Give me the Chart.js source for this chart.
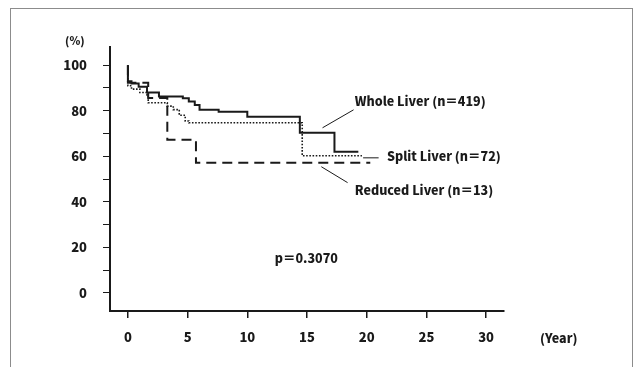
<!DOCTYPE html>
<html>
<head>
<meta charset="utf-8">
<script src="https://cdn.jsdelivr.net/npm/chart.js@4"></script>
<style>
  body { margin: 0; background: #fff; }
  #wrap { position: relative; width: 635px; height: 367px; overflow: hidden; }
  #frame { position: absolute; left: 10px; top: 8px; width: 621px; height: 400px;
           border: 1px solid #8c8c8c; border-bottom: none; }
  canvas { position: absolute; left: 0; top: 0; }
</style>
</head>
<body>
<div id="wrap">
  <div id="frame"></div>
  <canvas id="kmChart" width="635" height="367"></canvas>
</div>
<script>
// Kaplan-Meier curves (years, survival %)
const wholeYears = [0, 0, 0.3, 0.9, 1.6, 2.6, 4.6, 5.1, 5.6, 6.0, 7.6, 10.0, 14.4, 17.3, 19.3];
const wholeSurv  = [100, 93, 92, 90.5, 88, 86.3, 85.5, 84, 82.5, 80.4, 79.6, 77.4, 70.3, 62, 62];

const splitYears = [0, 0, 0.3, 1.0, 1.6, 1.7, 3.3, 3.8, 4.3, 4.8, 5.1, 14.6, 19.6];
const splitSurv  = [100, 91, 89.5, 88, 86.5, 83.5, 82, 80.5, 78, 75.5, 74.7, 60.2, 60.2];

const reducedYears = [0, 0, 1.7, 3.3, 5.7, 20.3];
const reducedSurv  = [100, 92.3, 85.6, 67.3, 57.1, 57.1];

const xTicks = [0, 5, 10, 15, 20, 25, 30];
const yTicks = [0, 10, 20, 30, 40, 50, 60, 70, 80, 90, 100];

// labels: text, anchor (years, %), leader line from/to (years, %)
const seriesLabels = ['Whole Liver (n＝419)', 'Split Liver (n＝72)', 'Reduced Liver (n＝13)'];
const labelAt  = [[19.0, 84.0], [21.7, 59.8], [19.0, 44.9]];
const leaderAt = [[16.3, 72.5, 18.9, 80.4], [19.7, 59.3, 21.0, 59.3], [16.2, 55.4, 18.4, 48.4]];
const pText = 'p＝0.3070';
const pAt = [12.3, 15.0];

function toPoints(xs, ys) {
  return xs.map((x, i) => ({ x: x, y: ys[i] }));
}

const ink = '#1a1a1a';
const family = "'Noto Sans CJK JP', 'Liberation Sans', sans-serif";
const font = "900 12.5px " + family;

const annotations = {
  id: 'annotations',
  afterDraw(chart) {
    const ctx = chart.ctx;
    const xs = chart.scales.x, ys = chart.scales.y;
    const area = chart.chartArea;
    ctx.save();
    ctx.fillStyle = ink;
    ctx.strokeStyle = ink;
    ctx.lineWidth = 1;
    ctx.font = font;
    ctx.textBaseline = 'middle';
    ctx.textAlign = 'left';
    seriesLabels.forEach((t, i) => {
      ctx.fillText(t, xs.getPixelForValue(labelAt[i][0]), ys.getPixelForValue(labelAt[i][1]));
      const l = leaderAt[i];
      ctx.beginPath();
      ctx.moveTo(xs.getPixelForValue(l[0]), ys.getPixelForValue(l[1]));
      ctx.lineTo(xs.getPixelForValue(l[2]), ys.getPixelForValue(l[3]));
      ctx.stroke();
    });
    ctx.fillText(pText, xs.getPixelForValue(pAt[0]), ys.getPixelForValue(pAt[1]));
    // axis titles
    ctx.font = "900 11px " + family;
    ctx.fillText('(%)', area.left - 45, area.top - 6);
    ctx.font = font;
    ctx.fillText('(Year)', area.right + 36, xs.bottom - 29);
    ctx.restore();
  }
};

const ctx = document.getElementById('kmChart').getContext('2d');
new Chart(ctx, {
  type: 'line',
  data: {
    datasets: [
      {
        label: 'Reduced Liver',
        data: toPoints(reducedYears, reducedSurv),
        borderColor: ink,
        borderWidth: 2,
        borderDash: [10, 6],
        stepped: true,
        pointRadius: 0,
        fill: false
      },
      {
        label: 'Split Liver',
        data: toPoints(splitYears, splitSurv),
        borderColor: ink,
        borderWidth: 1.6,
        borderDash: [1.6, 1.6],
        stepped: true,
        pointRadius: 0,
        fill: false
      },
      {
        label: 'Whole Liver',
        data: toPoints(wholeYears, wholeSurv),
        borderColor: ink,
        borderWidth: 2,
        stepped: true,
        pointRadius: 0,
        fill: false
      }
    ]
  },
  options: {
    responsive: false,
    animation: false,
    layout: { padding: { left: 0, top: 47, right: 131, bottom: 0 } },
    plugins: {
      legend: { display: false },
      tooltip: { enabled: false }
    },
    scales: {
      x: {
        type: 'linear',
        min: -1.5,
        max: 31.5,
        afterBuildTicks: (scale) => { scale.ticks = xTicks.map(v => ({ value: v })); },
        afterFit: (scale) => { scale.height = 56; },
        border: { display: true, color: ink, width: 2 },
        grid: { drawOnChartArea: false, drawTicks: true, tickLength: 7, color: ink, lineWidth: 1.5 },
        ticks: { color: ink, font: { family: family, size: 13, weight: 900 }, padding: 11, maxRotation: 0 }
      },
      y: {
        type: 'linear',
        min: -8,
        max: 108,
        afterBuildTicks: (scale) => { scale.ticks = yTicks.map(v => ({ value: v })); },
        afterFit: (scale) => { scale.width = 110; },
        border: { display: true, color: ink, width: 2 },
        grid: { drawOnChartArea: false, drawTicks: true, tickLength: 7, color: ink, lineWidth: 1 },
        ticks: {
          color: ink,
          font: { family: family, size: 13, weight: 900 },
          padding: 16,
          callback: (v) => (v % 20 === 0 ? v : '')
        }
      }
    }
  },
  plugins: [annotations]
});
</script>
</body>
</html>
